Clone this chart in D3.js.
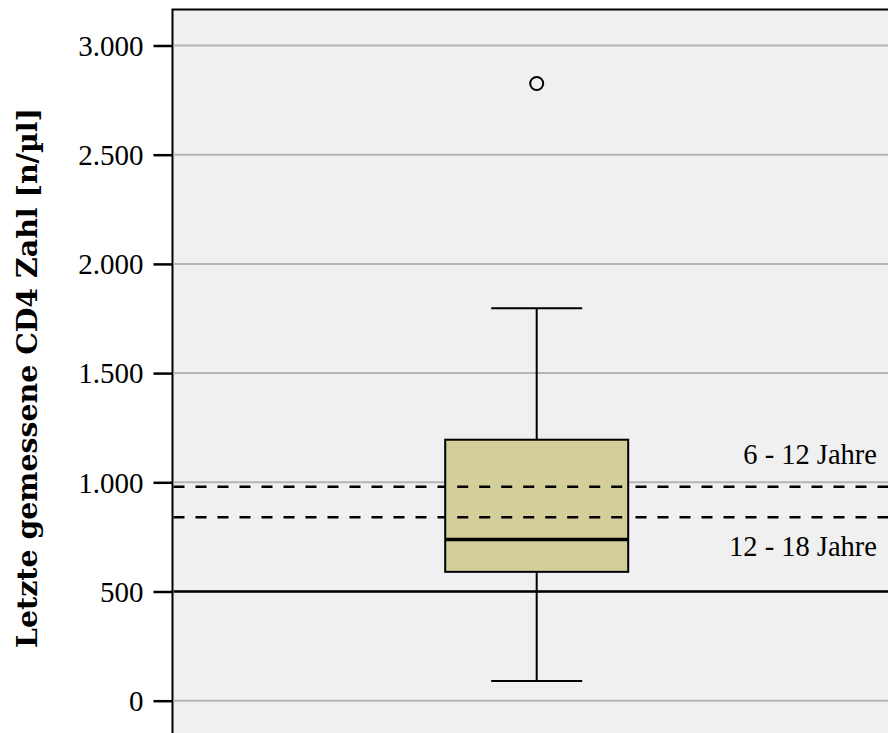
<!DOCTYPE html>
<meta charset="utf-8">
<script src="https://d3js.org/d3.v7.min.js"></script>
<style>
  body { margin: 0; background: #fff; }
  text { font-family: "Liberation Serif", "DejaVu Serif", serif; }
</style>
<svg width="888" height="733"></svg>
<script>

    // values
    const yTicks = [0, 500, 1000, 1500, 2000, 2500, 3000];
    const boxStats = {low: 90, q1: 590, median: 738, q3: 1195, high: 1797};
    const outliers = [2826];
    const refLines = [
        {value: 980, label: "6 - 12 Jahre", dashed: true},
        {value: 840, label: "12 - 18 Jahre", dashed: true},
        {value: 500, label: "", dashed: false}
    ];

    function boxplot(stats) {

        const width = 888, height = 733
        const plotLeft = 172.5, plotTop = 9.5

        const de = d3.formatLocale({decimal: ",", thousands: ".", grouping: [3], currency: ["", "€"]})

        const y = d3.scaleLinear()
            .domain([0, 3000])
            .range([700.7, 45.5])

        const svg = d3.select('svg')
            .attr('width', width)
            .attr('height', height)

        // plot background + frame
        svg.append('rect')
            .attr('x', plotLeft)
            .attr('y', plotTop)
            .attr('width', width)
            .attr('height', height)
            .attr('fill', '#f0f0f0')
            .attr('stroke', 'black')
            .attr('stroke-width', 2)

        // gridlines
        svg.selectAll('.grid')
            .data(yTicks)
            .enter().append('line')
            .attr('class', 'grid')
            .attr('x1', plotLeft + 1)
            .attr('x2', width)
            .attr('y1', d => y(d))
            .attr('y2', d => y(d))
            .attr('stroke', '#b5b5b5')
            .attr('stroke-width', 2)

        // y axis
        const axis = svg.append('g')
            .attr('transform', 'translate(' + plotLeft + ',0)')
            .call(d3.axisLeft(y).tickValues(yTicks).tickSize(19).tickPadding(10)
                .tickFormat(de.format(",")))
        axis.select('.domain').remove()
        axis.selectAll('.tick line').attr('stroke', 'black').attr('stroke-width', 2.5)
        axis.selectAll('.tick text')
            .attr('fill', 'black')
            .style('font-size', '29px')
            .style('font-family', '"Liberation Serif", serif')
            .attr('dy', '0.34em')

        // reference lines
        svg.selectAll('.ref')
            .data(refLines)
            .enter().append('line')
            .attr('class', 'ref')
            .attr('x1', plotLeft + 1)
            .attr('x2', width)
            .attr('y1', d => y(d.value))
            .attr('y2', d => y(d.value))
            .attr('stroke', 'black')
            .attr('stroke-width', 2.5)
            .attr('stroke-dasharray', d => d.dashed ? '11,11' : null)

        const cx = 536.7
        const boxW = 183, capW = 91

        // whisker
        svg.append('line')
            .attr('x1', cx).attr('x2', cx)
            .attr('y1', y(stats.low)).attr('y2', y(stats.high))
            .attr('stroke', 'black').attr('stroke-width', 2)

        svg.selectAll('.cap')
            .data([stats.low, stats.high])
            .enter().append('line')
            .attr('class', 'cap')
            .attr('x1', cx - capW / 2).attr('x2', cx + capW / 2)
            .attr('y1', d => y(d)).attr('y2', d => y(d))
            .attr('stroke', 'black').attr('stroke-width', 2)

        // box
        svg.append('rect')
            .attr('x', cx - boxW / 2)
            .attr('y', y(stats.q3))
            .attr('width', boxW)
            .attr('height', y(stats.q1) - y(stats.q3))
            .attr('fill', '#d3ce9a')
            .attr('stroke', 'black')
            .attr('stroke-width', 2)

        // reference lines showing through the box
        svg.selectAll('.refbox')
            .data(refLines.filter(d => d.dashed))
            .enter().append('line')
            .attr('class', 'refbox')
            .attr('x1', cx - boxW / 2 + 12)
            .attr('x2', cx + boxW / 2 - 6)
            .attr('y1', d => y(d.value))
            .attr('y2', d => y(d.value))
            .attr('stroke', 'black')
            .attr('stroke-width', 2.5)
            .attr('stroke-dasharray', '11,11')

        // median
        svg.append('line')
            .attr('x1', cx - boxW / 2).attr('x2', cx + boxW / 2)
            .attr('y1', y(stats.median)).attr('y2', y(stats.median))
            .attr('stroke', 'black').attr('stroke-width', 3.5)

        // outliers
        svg.selectAll('.out')
            .data(outliers)
            .enter().append('circle')
            .attr('class', 'out')
            .attr('cx', cx)
            .attr('cy', d => y(d))
            .attr('r', 6.5)
            .attr('fill', 'none')
            .attr('stroke', 'black')
            .attr('stroke-width', 2)

        // labels for the reference lines
        svg.selectAll('.reflabel')
            .data(refLines.filter(d => d.label))
            .enter().append('text')
            .attr('class', 'reflabel')
            .attr('text-anchor', 'end')
            .attr('x', 877)
            .attr('y', (d, i) => i === 0 ? y(d.value) - 23 : y(d.value) + 39)
            .style('font-size', '28.5px')
            .text(d => d.label)

        // axis title
        svg.append('text')
            .attr('transform', 'translate(37,378) rotate(-90)')
            .attr('text-anchor', 'middle')
            .attr('textLength', 540)
            .attr('lengthAdjust', 'spacingAndGlyphs')
            .style('font-family', '"DejaVu Serif", serif')
            .style('font-size', '28px')
            .style('font-weight', 'bold')
            .text('Letzte gemessene CD4 Zahl [n/µl]')
    }

    boxplot(boxStats);

</script>
